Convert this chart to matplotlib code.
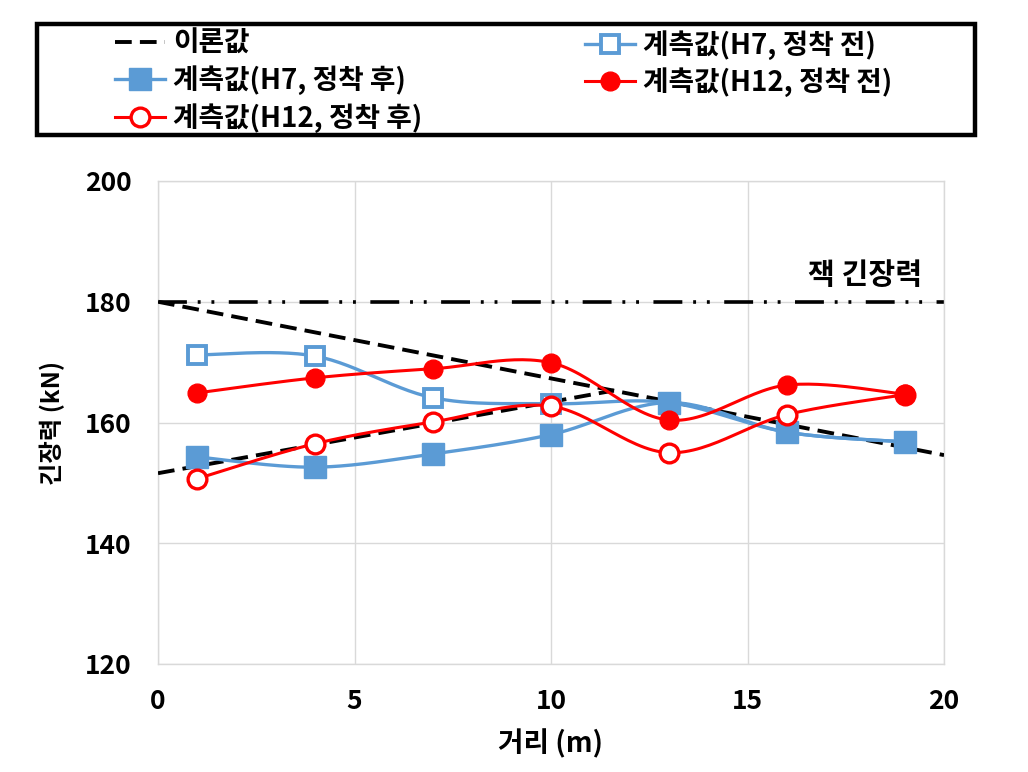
import numpy as np
import matplotlib
matplotlib.use("Agg")
import matplotlib.pyplot as plt
from matplotlib.lines import Line2D
from matplotlib.patches import Rectangle

plt.rcParams['font.family'] = ['Noto Sans CJK KR', 'DejaVu Sans']
plt.rcParams['font.weight'] = 'bold'

# ---------------- data ----------------
distance = [1, 4, 7, 10, 13, 16, 19]
h7_before = [171.2, 171.0, 164.1, 163.1, 163.3, 158.4, 156.8]
h7_after = [154.3, 152.6, 154.8, 158.0, 163.3, 158.4, 156.8]
h12_before = [164.9, 167.4, 168.9, 169.9, 160.4, 166.2, 164.7]
h12_after = [150.7, 156.5, 160.1, 162.7, 155.0, 161.3, 164.6]

theory_upper_x = [0, 20]
theory_upper_y = [180.0, 154.6]
theory_lower_x = [0, 11.6]
theory_lower_y = [151.6, 165.3]

jack_x = [0, 20]
jack_y = [180, 180]

legend_labels = ['이론값', '계측값(H7, 정착 전)', '계측값(H7, 정착 후)',
                 '계측값(H12, 정착 전)', '계측값(H12, 정착 후)']
jack_label = '잭 긴장력'
xlabel = '거리 (m)'
ylabel = '긴장력 (kN)'
xticks = [0, 5, 10, 15, 20]
yticks = [120, 140, 160, 180, 200]

BLUE = '#5B9BD5'
RED = '#FF0000'


def smooth(x, y, n=30):
    """Excel-like smoothed line (Catmull-Rom Bezier)."""
    x = np.asarray(x, float)
    y = np.asarray(y, float)
    P = np.column_stack([x, y])
    out = []
    m = len(P)
    for i in range(m - 1):
        p0 = P[i - 1] if i > 0 else P[i]
        p1 = P[i]
        p2 = P[i + 1]
        p3 = P[i + 2] if i + 2 < m else P[i + 1]
        c1 = p1 + (p2 - p0) / 6.0
        c2 = p2 - (p3 - p1) / 6.0
        t = np.linspace(0, 1, n)[:, None]
        seg = ((1 - t) ** 3) * p1 + 3 * ((1 - t) ** 2) * t * c1 + 3 * (1 - t) * t ** 2 * c2 + t ** 3 * p2
        if i > 0:
            seg = seg[1:]
        out.append(seg)
    out = np.vstack(out)
    return out[:, 0], out[:, 1]


fig = plt.figure(figsize=(10.28, 7.72), dpi=100)
W, H = 1028.0, 772.0
ax = fig.add_axes([158 / W, 1 - 664 / H, (944 - 158) / W, (664 - 181) / H])

# jack tension line (dash-dot-dot)
ax.plot(jack_x, jack_y, color='black', lw=2.6,
        dashes=(8, 3, 0.8, 3, 0.8, 4), zorder=2)
ax.text(19.45, 182.0, jack_label, ha='right', va='bottom', fontsize=21,
        fontweight='bold')

# theoretical
th_kw = dict(color='black', lw=2.8, dashes=(4.3, 2.1), zorder=3)
ax.plot(theory_upper_x, theory_upper_y, **th_kw)
ax.plot(theory_lower_x, theory_lower_y, **th_kw)

# H7 before
sx, sy = smooth(distance, h7_before)
ax.plot(sx, sy, color=BLUE, lw=2.4, zorder=4)
ax.plot(distance, h7_before, ls='none', marker='s', ms=13, mfc='white',
        mec=BLUE, mew=2.8, zorder=4)
# H7 after
sx, sy = smooth(distance, h7_after)
ax.plot(sx, sy, color=BLUE, lw=2.4, zorder=5)
ax.plot(distance, h7_after, ls='none', marker='s', ms=16.5, mfc=BLUE,
        mec=BLUE, zorder=5)
# H12 after
sx, sy = smooth(distance, h12_after)
ax.plot(sx, sy, color=RED, lw=2.2, zorder=6)
ax.plot(distance, h12_after, ls='none', marker='o', ms=13.5, mfc='white',
        mec=RED, mew=2.4, zorder=6)
# H12 before
sx, sy = smooth(distance, h12_before)
ax.plot(sx, sy, color=RED, lw=2.2, zorder=7)
ax.plot(distance, h12_before, ls='none', marker='o', ms=13.5, mfc=RED,
        mec=RED, zorder=7)

ax.set_xlim(0, 20)
ax.set_ylim(120, 200)
ax.set_xticks(xticks)
ax.set_yticks(yticks)
ax.tick_params(length=0, labelsize=19)
ax.tick_params(axis='x', pad=17)
ax.tick_params(axis='y', pad=19)
for lab in ax.get_xticklabels() + ax.get_yticklabels():
    lab.set_fontweight('bold')
ax.grid(True, color='#D9D9D9', lw=1)
ax.set_axisbelow(True)
for s in ax.spines.values():
    s.set_color('#D9D9D9')
    s.set_linewidth(1)
ax.set_xlabel(xlabel, fontsize=20, fontweight='bold', labelpad=10)
ax.set_ylabel(ylabel, fontsize=17.5, fontweight='bold', labelpad=14)

# legend box
fig.patches.append(Rectangle((37 / W, 1 - 135 / H), (975 - 37) / W, 111 / H,
                             transform=fig.transFigure, fill=False,
                             edgecolor='black', lw=3.2, zorder=10))

h_theory = Line2D([], [], color='black', lw=2.8, dashes=(4.3, 2.1))
h_h7b = Line2D([], [], color=BLUE, lw=2.4, marker='s', ms=13, mfc='white',
               mec=BLUE, mew=2.8)
h_h7a = Line2D([], [], color=BLUE, lw=2.4, marker='s', ms=16.5, mfc=BLUE,
               mec=BLUE)
h_h12b = Line2D([], [], color=RED, lw=2.2, marker='o', ms=13.5, mfc=RED,
                mec=RED)
h_h12a = Line2D([], [], color=RED, lw=2.2, marker='o', ms=13.5, mfc='white',
                mec=RED, mew=2.4)

leg_kw = dict(loc='upper left', fontsize=20, frameon=False,
              handlelength=1.8, borderaxespad=0, borderpad=0,
              labelspacing=0.27, handletextpad=0.3)
leg1 = fig.legend([h_theory, h_h7a, h_h12a],
                  [legend_labels[0], legend_labels[2], legend_labels[4]],
                  bbox_to_anchor=(115 / W, 1 - 30 / H), **leg_kw)
leg2 = fig.legend([h_h7b, h_h12b],
                  [legend_labels[1], legend_labels[3]],
                  bbox_to_anchor=(585 / W, 1 - 30 / H), **leg_kw)
for lg in (leg1, leg2):
    for t in lg.get_texts():
        t.set_fontweight('bold')

fig.savefig('out.png', dpi=100)
